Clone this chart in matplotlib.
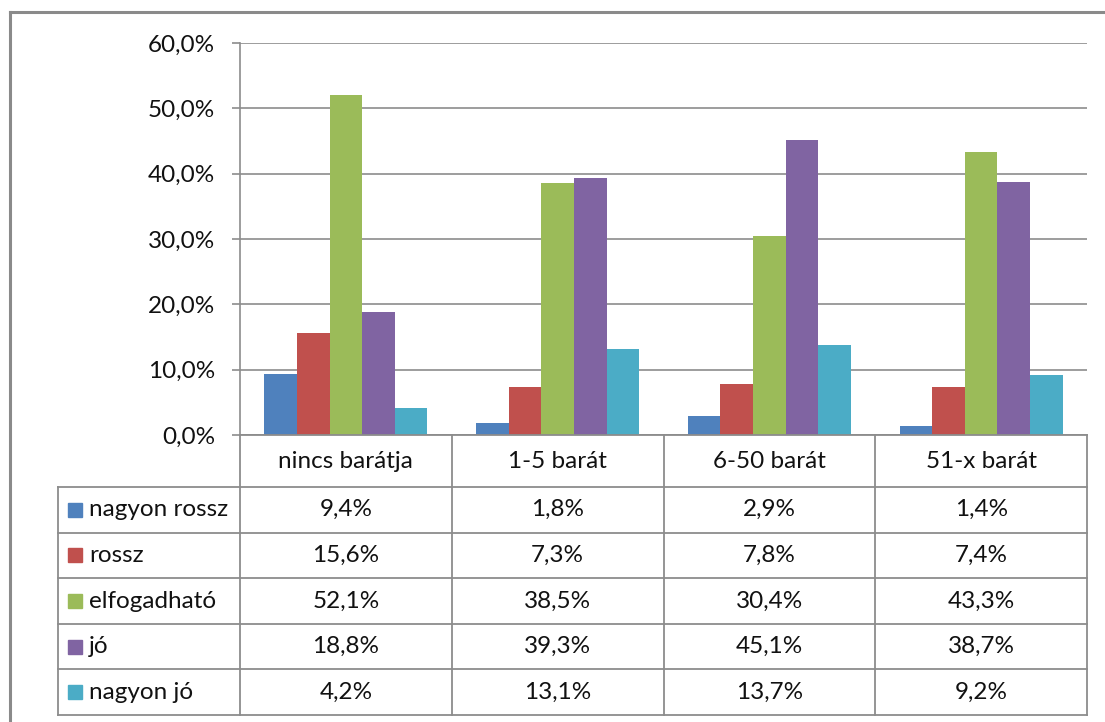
import matplotlib
matplotlib.use("Agg")
import matplotlib.pyplot as plt
import numpy as np
from matplotlib.lines import Line2D

categories = ["nincs barátja", "1-5 barát", "6-50 barát", "51-x barát"]
series_names = ["nagyon rossz", "rossz", "elfogadható", "jó", "nagyon jó"]
nagyon_rossz = [9.4, 1.8, 2.9, 1.4]
rossz = [15.6, 7.3, 7.8, 7.4]
elfogadhato = [52.1, 38.5, 30.4, 43.3]
jo = [18.8, 39.3, 45.1, 38.7]
nagyon_jo = [4.2, 13.1, 13.7, 9.2]
yticks = [0, 10, 20, 30, 40, 50, 60]

series = [nagyon_rossz, rossz, elfogadhato, jo, nagyon_jo]
colors = ["#4F81BD", "#C0504D", "#9BBB59", "#8064A2", "#4BACC6"]

W, H = 1105, 722
fig = plt.figure(figsize=(W / 100, H / 100), dpi=100)
plt.rcParams['font.family'] = ['Lato', 'DejaVu Sans']

def fx(px):
    return px / W

def fy(py):
    return 1 - py / H

grid_c = "#8C8C8C"
txt_c = "#111111"
fs = 17.5

# plot axes
ax_l, ax_r, ax_t, ax_b = 240, 1087, 43, 435
ax = fig.add_axes([fx(ax_l), fy(ax_b), fx(ax_r - ax_l), fy(ax_t) - fy(ax_b)])
n = len(series)
bw = 0.154
x = np.arange(len(categories))
for i, (s, c) in enumerate(zip(series, colors)):
    ax.bar(x + (i - (n - 1) / 2) * bw, s, width=bw, color=c, zorder=3, linewidth=0)
ax.set_xlim(-0.5, len(categories) - 0.5)
ax.set_ylim(0, 60)
ax.set_yticks(yticks)
ax.set_yticklabels([f"{v:.1f}%".replace(".", ",") for v in yticks], fontsize=fs, color=txt_c)
ax.yaxis.grid(True, color=grid_c, lw=1.2, zorder=0)
ax.set_xticks([])
for sp in ["top", "right", "bottom"]:
    ax.spines[sp].set_visible(False)
ax.spines["left"].set_color(grid_c)
ax.spines["left"].set_linewidth(1.2)
ax.tick_params(axis="y", length=5.8, width=1.2, color=grid_c, pad=12)

# data table
tab_l, tab_r, tab_t, tab_b = 58, 1087, 435, 715
header_b = 487
tax = fig.add_axes([0, 0, 1, 1], zorder=5)
tax.set_xlim(0, W)
tax.set_ylim(H, 0)
tax.axis("off")
col_w = (ax_r - ax_l) / len(categories)
row_h = (tab_b - header_b) / len(series_names)
lc = "#8C8C8C"
lw = 1.3
for k in range(len(categories) + 1):
    xx = ax_l + k * col_w
    tax.add_line(Line2D([xx, xx], [tab_t, tab_b], color=lc, lw=lw))
tax.add_line(Line2D([tab_l, tab_l], [header_b, tab_b], color=lc, lw=lw))
tax.add_line(Line2D([ax_l, ax_r], [tab_t, tab_t], color=lc, lw=lw))
for r in range(len(series_names) + 1):
    yy = header_b + r * row_h
    tax.add_line(Line2D([tab_l, ax_r], [yy, yy], color=lc, lw=lw))
for k, cat in enumerate(categories):
    tax.text(ax_l + (k + 0.5) * col_w, (tab_t + header_b) / 2, cat,
             ha="center", va="center", fontsize=fs, color=txt_c)
for r, (name, s, c) in enumerate(zip(series_names, series, colors)):
    yc = header_b + (r + 0.5) * row_h
    tax.add_patch(plt.Rectangle((68, yc - 7), 14, 14, color=c))
    tax.text(89, yc, name, ha="left", va="center", fontsize=fs, color=txt_c)
    for k, v in enumerate(s):
        tax.text(ax_l + (k + 0.5) * col_w, yc, f"{v:.1f}%".replace(".", ","),
                 ha="center", va="center", fontsize=fs, color=txt_c)

# outer frame
fc = "#8A8A8A"
tax.add_line(Line2D([10, 10], [12, H], color=fc, lw=2.2))
tax.add_line(Line2D([10, W], [12, 12], color=fc, lw=2.2))

fig.savefig("out.png", dpi=100)
